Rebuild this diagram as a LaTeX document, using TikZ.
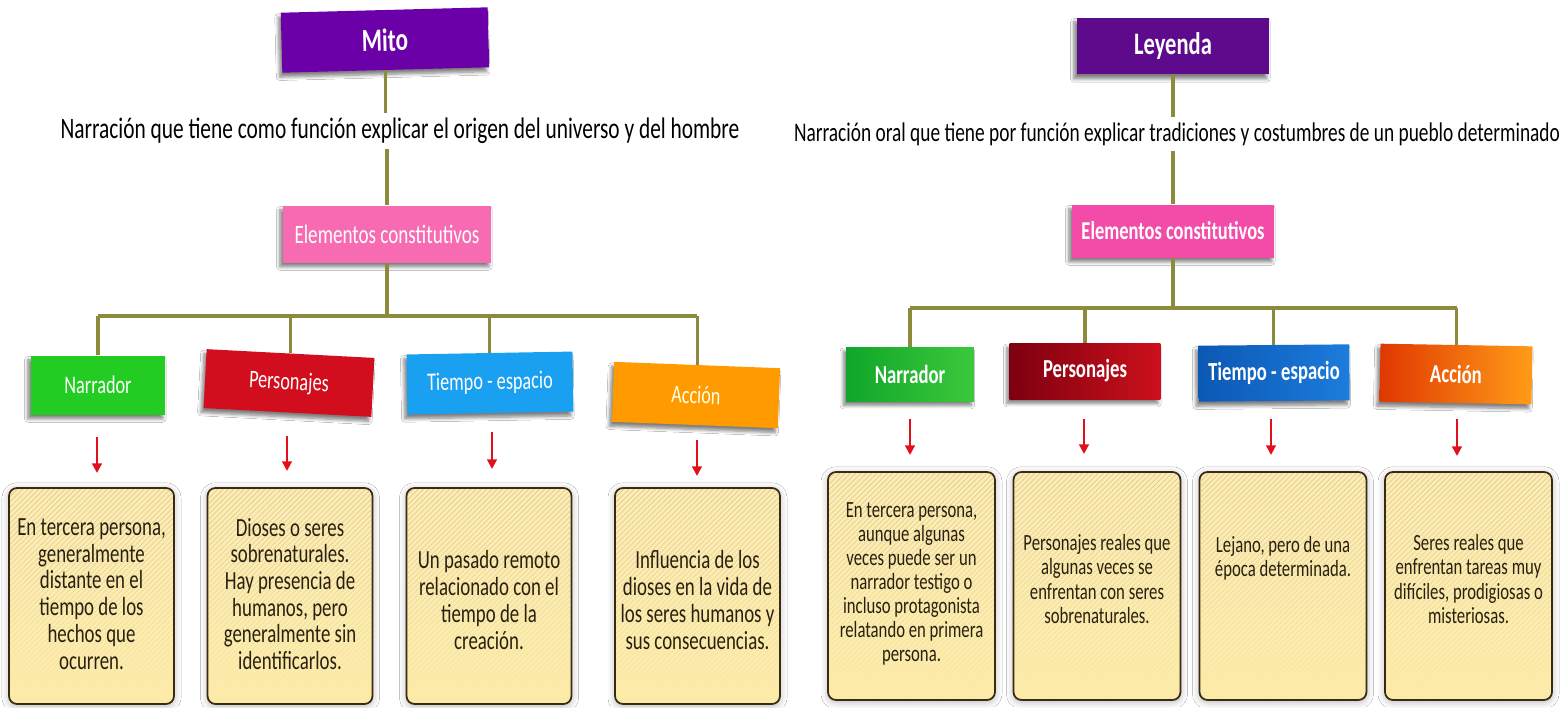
\documentclass[tikz,border=0pt]{standalone}
\usepackage{fontspec}
\setmainfont[FakeStretch=0.72]{Carlito}
\usetikzlibrary{shadows.blur,patterns,fadings,calc,arrows.meta}
\definecolor{stemc}{HTML}{8E8A3C}
\definecolor{arrred}{HTML}{E2101C}
\definecolor{purpL}{HTML}{6C00A8}
\definecolor{purpR}{HTML}{5E0A8C}
\definecolor{pinkL}{HTML}{F76BB2}
\definecolor{pinkR}{HTML}{F24CA8}
\definecolor{greenL}{HTML}{22CC22}
\definecolor{greenRa}{HTML}{10A62A}
\definecolor{greenRb}{HTML}{3CC83C}
\definecolor{redL}{HTML}{D20D1E}
\definecolor{redRa}{HTML}{7E0010}
\definecolor{redRb}{HTML}{CC101C}
\definecolor{blueL}{HTML}{1AA0F0}
\definecolor{blueRa}{HTML}{0C58B4}
\definecolor{blueRb}{HTML}{1C7CDC}
\definecolor{orangeL}{HTML}{FF9A00}
\definecolor{orangeRa}{HTML}{E03800}
\definecolor{orangeRb}{HTML}{FF9C18}
\definecolor{cardtop}{HTML}{FCEDB8}
\definecolor{cardmid}{HTML}{FAD77A}
\definecolor{cardbot}{HTML}{FCEBA8}
\definecolor{cardline}{HTML}{3A2A12}
\definecolor{cardtext}{HTML}{2A2010}
\definecolor{hatchc}{HTML}{D8BE78}
\tikzfading[name=hatchfade, top color=transparent!25, middle color=transparent!100, bottom color=transparent!100]
\tikzset{
  lab/.style={rectangle, inner sep=0pt, text=white, font=\fontsize{14.4}{16}\selectfont,
    blur shadow={shadow xshift=-1.5pt, shadow yshift=-2.5pt, shadow blur steps=6, shadow opacity=50}},
  labR/.style={lab, font=\bfseries\fontsize{14.8}{16}\selectfont},
  stem/.style={draw=stemc, line width=1.8pt},
  redarr/.style={draw=arrred, line width=1.3pt, -{Triangle[width=5.5pt,length=5.5pt]}},
  card/.style={rectangle, rounded corners=0.16cm, draw=cardline, line width=1pt,
    top color=cardtop, middle color=cardmid, bottom color=cardbot,
    blur shadow={shadow xshift=0pt, shadow yshift=-1pt, shadow blur radius=4pt, shadow opacity=30}},
  cardL/.style={card, minimum width=3.3cm, minimum height=4.32cm},
  cardR/.style={card, minimum width=3.34cm, minimum height=4.56cm},
  ctextL/.style={align=center, text=cardtext, font=\fontsize{14.9}{15.2}\selectfont},
  ctextR/.style={align=center, text=cardtext, font=\fontsize{13.2}{13.7}\selectfont},
  deftext/.style={text=black, inner sep=3pt},
  hatch/.style={pattern=north east lines, pattern color=hatchc, path fading=hatchfade, rounded corners=0.12cm}
}
\begin{document}
\begin{tikzpicture}[x=0.02cm,y=-0.02cm]
\useasboundingbox (0,0) rectangle (1566,707);
\fill[white] (0,0) rectangle (1566,707);

% ================= LEFT: MITO =================
\node[lab, fill=purpL, font=\bfseries\fontsize{18.3}{20}\selectfont, minimum width=4.14cm, minimum height=1.2cm, rotate=1.5] (mito) at (385,40) {Mito};
\node[deftext, font=\fontsize{16.9}{18}\selectfont] (defL) at (400,131) {Narración que tiene como función explicar el origen del universo y del hombre};
\node[lab, fill=pinkL, font=\fontsize{15.1}{16}\selectfont, minimum width=4.18cm, minimum height=1.14cm] (elemL) at (387,234) {Elementos constitutivos};

\node[lab, fill=greenL, minimum width=2.7cm, minimum height=1.18cm] (narrL) at (98,385) {Narrador};
\node[lab, fill=redL, minimum width=3.36cm, minimum height=1.18cm, rotate=-3] (persL) at (289,383) {Personajes};
\node[lab, fill=blueL, minimum width=3.32cm, minimum height=1.2cm, rotate=1] (tiemL) at (490,383) {Tiempo - espacio};
\node[lab, fill=orangeL, text=white!90!yellow, minimum width=3.32cm, minimum height=1.2cm, rotate=-2.2] (accL) at (696,395) {Acción};

\coordinate (barL) at (387,316);
\draw[stem] (mito.south) -- (mito.south |- defL.north);
\draw[stem] (elemL.north |- defL.south) -- (elemL.north);
\draw[stem] (elemL.south) -- (barL);
\draw[stem] (narrL.north |- barL) -- (accL.north |- barL);
\draw[stem] (narrL.north |- barL) -- (narrL.north);
\draw[stem] (persL.north |- barL) -- (persL.north);
\draw[stem] (tiemL.north |- barL) -- (tiemL.north);
\draw[stem] (accL.north |- barL) -- (accL.north);

% cards left
\node[cardL] (c1) at (91.5,596) {};
\node[cardL] (c2) at (290,596) {};
\node[cardL] (c3) at (489,596) {};
\node[cardL] (c4) at (697.5,596) {};
\foreach \c in {c1,c2,c3,c4}{
  \fill[hatch] ([shift={(2,2)}]\c.north west) rectangle ([shift={(-2,-2)}]\c.south east);
}
\node[ctextL] (t1) at (91.5,594) {En tercera persona,\\generalmente\\distante en el\\tiempo de los\\hechos que\\ocurren.};
\node[ctextL] (t2) at (290,594) {Dioses o seres\\sobrenaturales.\\Hay presencia de\\humanos, pero\\generalmente sin\\identificarlos.};
\node[ctextL] (t3) at (489,600) {Un pasado remoto\\relacionado con el\\tiempo de la\\creación.};
\node[ctextL] (t4) at (697.5,600) {Influencia de los\\dioses en la vida de\\los seres humanos y\\sus consecuencias.};

% red arrows left
\coordinate (a1s) at (97,437);  \coordinate (a1e) at (97,473);
\coordinate (a2s) at (287,436); \coordinate (a2e) at (287,471);
\coordinate (a3s) at (492,432); \coordinate (a3e) at (492,469);
\coordinate (a4s) at (697,440); \coordinate (a4e) at (697,476);
\draw[redarr] (a1s) -- (a1e);
\draw[redarr] (a2s) -- (a2e);
\draw[redarr] (a3s) -- (a3e);
\draw[redarr] (a4s) -- (a4e);

% ================= RIGHT: LEYENDA =================
\node[lab, fill=purpR, font=\bfseries\fontsize{17.8}{19}\selectfont, minimum width=3.86cm, minimum height=1.14cm] (ley) at (1173,46) {Leyenda};
\node[deftext, font=\fontsize{15.3}{17}\selectfont] (defR) at (1177,134) {Narración oral que tiene por función explicar tradiciones y costumbres de un pueblo determinado};
\node[labR, fill=pinkR, font=\bfseries\fontsize{14.6}{16}\selectfont, minimum width=4.06cm, minimum height=1.06cm] (elemR) at (1173,231) {Elementos constitutivos};

\node[labR, left color=greenRa, right color=greenRb, minimum width=2.56cm, minimum height=1.08cm] (narrR) at (910,374) {Narrador};
\node[labR, left color=redRa, right color=redRb, minimum width=3.02cm, minimum height=1.12cm] (persR) at (1085,371) {Personajes};
\node[labR, left color=blueRa, right color=blueRb, minimum width=3.02cm, minimum height=1.12cm, rotate=0.5] (tiemR) at (1274,373) {Tiempo - espacio};
\node[labR, left color=orangeRa, right color=orangeRb, minimum width=3.04cm, minimum height=1.16cm, rotate=-1] (accR) at (1456,374) {Acción};

\coordinate (barR) at (1173,308);
\draw[stem] (ley.south) -- (ley.south |- defR.north);
\draw[stem] (elemR.north |- defR.south) -- (elemR.north);
\draw[stem] (elemR.south) -- (barR);
\draw[stem] (narrR.north |- barR) -- (accR.north |- barR);
\draw[stem] (narrR.north |- barR) -- (narrR.north);
\draw[stem] (persR.north |- barR) -- (persR.north);
\draw[stem] (tiemR.north |- barR) -- (tiemR.north);
\draw[stem] (accR.north |- barR) -- (accR.north);

% cards right
\node[cardR] (d1) at (911.5,586) {};
\node[cardR] (d2) at (1097,586) {};
\node[cardR] (d3) at (1283,586) {};
\node[cardR] (d4) at (1468.5,586) {};
\foreach \c in {d1,d2,d3,d4}{
  \fill[hatch] ([shift={(2,2)}]\c.north west) rectangle ([shift={(-2,-2)}]\c.south east);
}
\node[ctextR] (u1) at (911.5,584) {En tercera persona,\\aunque algunas\\veces puede ser un\\narrador testigo o\\incluso protagonista\\relatando en primera\\persona.};
\node[ctextR] (u2) at (1097,579) {Personajes reales que\\algunas veces se\\enfrentan con seres\\sobrenaturales.};
\node[ctextR, anchor=north] (u3) at (1283,530) {Lejano, pero de una\\época determinada.};
\node[ctextR] (u4) at (1468.5,579) {Seres reales que\\enfrentan tareas muy\\difíciles, prodigiosas o\\misteriosas.};

% red arrows right
\coordinate (b1s) at (910,419);  \coordinate (b1e) at (910,455);
\coordinate (b2s) at (1084,419); \coordinate (b2e) at (1084,454);
\coordinate (b3s) at (1271,419); \coordinate (b3e) at (1271,455);
\coordinate (b4s) at (1457,419); \coordinate (b4e) at (1457,456);
\draw[redarr] (b1s) -- (b1e);
\draw[redarr] (b2s) -- (b2e);
\draw[redarr] (b3s) -- (b3e);
\draw[redarr] (b4s) -- (b4e);
\end{tikzpicture}
\end{document}
